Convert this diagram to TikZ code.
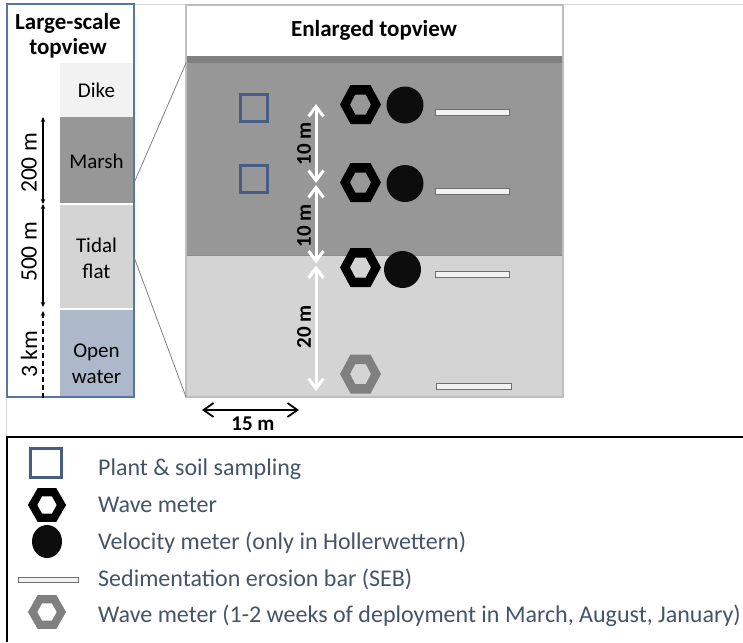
\documentclass[tikz,border=0pt]{standalone}
\usepackage{fontspec}
\setmainfont{Carlito}
\usetikzlibrary{arrows.meta}

\definecolor{panelblue}{RGB}{84,120,162}
\definecolor{dikefill}{RGB}{242,242,242}
\definecolor{marshfill}{RGB}{151,151,151}
\definecolor{flatfill}{RGB}{212,212,212}
\definecolor{waterfill}{RGB}{173,185,202}
\definecolor{bandfill}{RGB}{128,128,128}
\definecolor{framegray}{RGB}{190,190,190}
\definecolor{sampleblue}{RGB}{68,94,132}
\definecolor{legendtext}{RGB}{68,84,106}
\definecolor{lightwave}{RGB}{128,128,128}
\definecolor{meterblack}{RGB}{13,13,13}
\definecolor{sebfill}{RGB}{242,242,242}
\definecolor{sebline}{RGB}{110,110,110}

\tikzset{
  titletext/.style={font=\bfseries\fontsize{23}{25}\selectfont, align=center, inner sep=0},
  striptext/.style={font=\fontsize{21}{26}\selectfont, align=center, inner sep=0},
  sidetext/.style={font=\fontsize{23.5}{23.5}\selectfont, rotate=90, inner sep=0},
  spacetext/.style={font=\bfseries\fontsize{21}{21}\selectfont, rotate=90, inner sep=0},
  legtext/.style={font=\fontsize{24}{24}\selectfont, text=legendtext, anchor=base west, inner sep=0},
  sidedim/.style={line width=1.2, {Stealth[length=5,width=4.5]}-{Stealth[length=5,width=4.5]}},
  whitedim/.style={white, line width=3, {Straight Barb[length=10,width=15]}-{Straight Barb[length=10,width=15]}},
  blackdim/.style={black, line width=1.8, {Straight Barb[length=10,width=14]}-{Straight Barb[length=10,width=14]}},
  zoomline/.style={draw=black!50, line width=0.8},
  samplebox/.style={draw=sampleblue, line width=3},
  sebbar/.style={fill=sebfill, draw=sebline, line width=1},
  hexring/.pic={
    \fill[pic actions, even odd rule]
      (-20.5,0) -- (-10,-19.5) -- (10,-19.5) -- (20.5,0) -- (10,19.5) -- (-10,19.5) -- cycle
      (-10.5,0) -- (-5.3,-10) -- (5.3,-10) -- (10.5,0) -- (5.3,10) -- (-5.3,10) -- cycle;
  }
}

\begin{document}
\begin{tikzpicture}[x=1pt,y=-1pt]
\useasboundingbox (0,0) rectangle (743,642);
\fill[white] (0,0) rectangle (743,642);

% faint page frame
\draw[black!15, line width=0.8] (6,437) -- (6,4) -- (743,4);

% ---------- large-scale topview ----------
\fill[dikefill]  (60,63)  rectangle (133,117);
\fill[marshfill] (60,117) rectangle (133,203);
\fill[flatfill]  (60,205) rectangle (133,308);
\fill[waterfill] (60,310) rectangle (133,397);
\draw[panelblue, line width=1.3] (7,4) rectangle (134,397);

\node[titletext, anchor=base] (lstitle) at (68,55) {Large-scale\\topview};
\node[striptext] (dike)  at (96.5,90)  {Dike};
\node[striptext] (marsh) at (96.5,161) {Marsh};
\node[striptext] (tidal) at (96.5,258) {Tidal\\flat};
\node[striptext] (water) at (96.5,364) {Open\\water};

% distances along the transect
\coordinate (d0) at (43,117);
\coordinate (d1) at (43,204);
\coordinate (d2) at (43,307);
\coordinate (d3) at (43,311);
\coordinate (d4) at (43,398);
\draw[sidedim] (d0) -- (d1);
\draw[sidedim] (d1) -- (d2);
\draw[line width=1.2, dash pattern=on 5pt off 3pt, -{Stealth[length=5,width=4.5]}] (d4) -- (d3);
\node[sidetext] (l200) at (29,163) {200 m};
\node[sidetext] (l500) at (29,252) {500 m};
\node[sidetext] (l3km) at (29,354) {3 km};

% ---------- enlarged topview ----------
\fill[white]     (186,5)   rectangle (563,56);
\fill[bandfill]  (186,56)  rectangle (563,63);
\fill[marshfill] (186,63)  rectangle (563,255);
\fill[flatfill]  (186,255) rectangle (563,397);
\draw[black!45, line width=1] (186,255) -- (563,255);
\draw[framegray, line width=1.5] (186,5) rectangle (563,397);
\node[titletext, anchor=base] (entitle) at (374,37) {Enlarged topview};

% zoom lines between the two views
\coordinate (zl1) at (134,183);
\coordinate (zl2) at (134,257);
\coordinate (zr1) at (186,63);
\coordinate (zr2) at (186,397);
\draw[zoomline] (zl1) -- (zr1);
\draw[zoomline] (zl2) -- (zr2);

% plant & soil sampling plots
\draw[samplebox] (240.5,94.5) rectangle (267.5,121.5);
\draw[samplebox] (240.5,165.5) rectangle (267.5,192.5);

% wave meters
\pic[fill=black] at (360.5,104.5) {hexring};
\pic[fill=black] at (360.5,182.5) {hexring};
\pic[fill=black] at (360.5,267.5) {hexring};
\pic[fill=lightwave] at (360.5,374) {hexring};

% velocity meters
\fill[meterblack] (405,105) circle (18.5);
\fill[meterblack] (405,183.5) circle (18.5);
\fill[meterblack] (402.5,269.5) circle (18.5);

% sedimentation erosion bars
\draw[sebbar] (435,109.5) rectangle (509,115.5);
\draw[sebbar] (435,188)   rectangle (509,194);
\draw[sebbar] (435,271.5) rectangle (509,277.5);
\draw[sebbar] (436,383.5) rectangle (511,389.5);

% spacing between stations
\coordinate (s0) at (316,104);
\coordinate (s1) at (316,184);
\coordinate (s2) at (316,264.5);
\coordinate (s3) at (316,391);
\draw[whitedim] (s0) -- ([yshift=1pt]s1);
\draw[whitedim] ([yshift=-1pt]s1) -- ([yshift=1pt]s2);
\draw[whitedim] ([yshift=-1pt]s2) -- (s3);
\node[spacetext] (m10a) at (304,144) {10 m};
\node[spacetext] (m10b) at (304,226) {10 m};
\node[spacetext] (m20)  at (304,327) {20 m};

% width of the transect
\coordinate (w0) at (202,410);
\coordinate (w1) at (299,410);
\draw[blackdim] (w0) -- (w1);
\node[font=\bfseries\fontsize{21}{21}\selectfont, inner sep=0] (m15) at (253,424) {15 m};

% ---------- legend ----------
\draw[black, line width=2] (7,642) -- (7,437) -- (743,437);

\draw[samplebox] (30.5,448.5) rectangle (61.5,477.5);
\pic[fill=black, xscale=0.93, yscale=0.87] at (47,505) {hexring};
\fill[meterblack] (47,541.5) ellipse (15 and 16.5);
\draw[sebbar] (18,577.5) rectangle (78,582.5);
\pic[fill=lightwave, xscale=0.93, yscale=0.87] at (47,612) {hexring};

\node[legtext] (t1) at (98,475) {Plant \& soil sampling};
\node[legtext] (t2) at (98,512) {Wave meter};
\node[legtext] (t3) at (98,549) {Velocity meter (only in Hollerwettern)};
\node[legtext] (t4) at (98,586) {Sedimentation erosion bar (SEB)};
\node[legtext] (t5) at (98,622) {Wave meter (1-2 weeks of deployment in March, August, January)};
\end{tikzpicture}
\end{document}
